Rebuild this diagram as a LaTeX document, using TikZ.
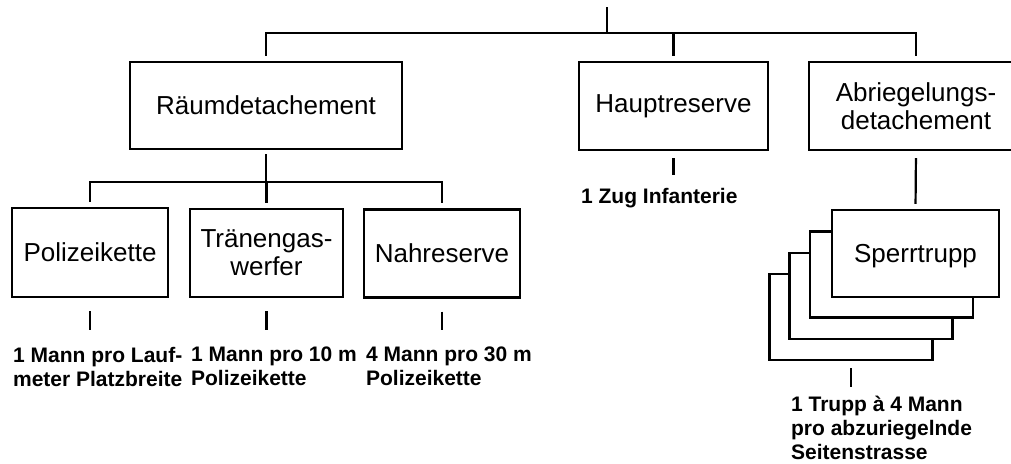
\documentclass[tikz,border=0pt]{standalone}
\usepackage{fontspec}
\setmainfont{Liberation Sans}
\begin{document}
\begin{tikzpicture}
         [x=0.5pt, y=-0.5pt, line width=1.1pt,
          box node/.style={rectangle,draw,fill=white,line width=1.2pt,minimum height=44pt,inner sep=2pt,align=center,font=\fontsize{13}{14}\selectfont},
          note/.style={anchor=north west,inner sep=0pt,align=left,font=\fontsize{10.5}{12}\selectfont\bfseries}]
         \useasboundingbox (0,0) rectangle (1011,463);
         \clip (0,0) rectangle (1011,463);

         \node[box node, minimum width=136pt, minimum height=43.5pt] (raum) at (266,105.5) {Räumdetachement};
         \node[box node, minimum width=94.5pt] (haupt) at (673.5,106) {Hauptreserve};
         \node[box node, minimum width=107pt] (abr) at (916,106) {Abriegelungs-\\detachement};

         \node[box node, minimum width=78pt, minimum height=44.5pt] (pol) at (90,252.5) {Polizeikette};
         \node[box node, minimum width=76.5pt] (tran) at (266.5,253) {Tränengas-\\werfer};
         \node[box node, minimum width=78pt] (nah) at (442,253.5) {Nahreserve};

         % Sperrtrupps, hinten nach vorn
         \node[box node, minimum width=81.5pt, minimum height=43pt] (sperrc) at (851,317) {};
         \node[box node, minimum width=81.5pt, minimum height=43pt] (sperrb) at (871,296) {};
         \node[box node, minimum width=81.5pt, minimum height=43pt] (sperra) at (891.5,274.5) {};
         \node[box node, minimum width=83.5pt, minimum height=43.5pt, text depth=0pt] (sperr) at (915.5,253.5) {Sperrtrupp};

         \node[note] (hauptnote) at (580,187) {1 Zug Infanterie};
         \node[note] (polnote) at (12,346) {1 Mann pro Lauf-\\meter Platzbreite};
         \node[note] (trannote) at (190,346) {1 Mann pro 10 m\\Polizeikette};
         \node[note] (nahnote) at (365,346) {4 Mann pro 30 m\\Polizeikette};
         \node[note] (sperrnote) at (790,395) {1 Trupp à 4 Mann\\pro abzuriegelnde\\Seitenstrasse};

         \coordinate (top) at (607,7);
         \coordinate (bus) at (607,33);
         \coordinate (fork) at (266,182);

         \draw (top) -- (bus);
         \draw[shorten >=2.5pt] (bus) -| (raum.north);
         \draw[shorten >=2.5pt] (bus) -| (haupt.north);
         \draw[shorten >=2.5pt] (bus) -| (abr.north);

         \draw[shorten <=2pt] (raum.south) -- (fork);
         \draw[shorten >=2.5pt] (fork) -| (pol.north);
         \draw[shorten >=2.5pt] (fork) -| (tran.north);
         \draw[shorten >=2.5pt] (fork) -| (nah.north);
         \draw[shorten <=3.5pt, shorten >=2.5pt] (abr.south) -- (sperr.north);

         \draw[shorten <=3.5pt, shorten >=6pt] (haupt.south) -- (haupt.south |- hauptnote.north);
         \draw[shorten <=6.5pt, shorten >=8pt] (pol.south) -- (pol.south |- polnote.north);
         \draw[shorten <=6.5pt, shorten >=8pt] (tran.south) -- (tran.south |- trannote.north);
         \draw[shorten <=6.5pt, shorten >=8pt] (nah.south) -- (nah.south |- nahnote.north);
         \draw[shorten <=3.5pt, shorten >=4pt] (sperrc.south) -- (sperrc.south |- sperrnote.north);
      \end{tikzpicture}
\end{document}
